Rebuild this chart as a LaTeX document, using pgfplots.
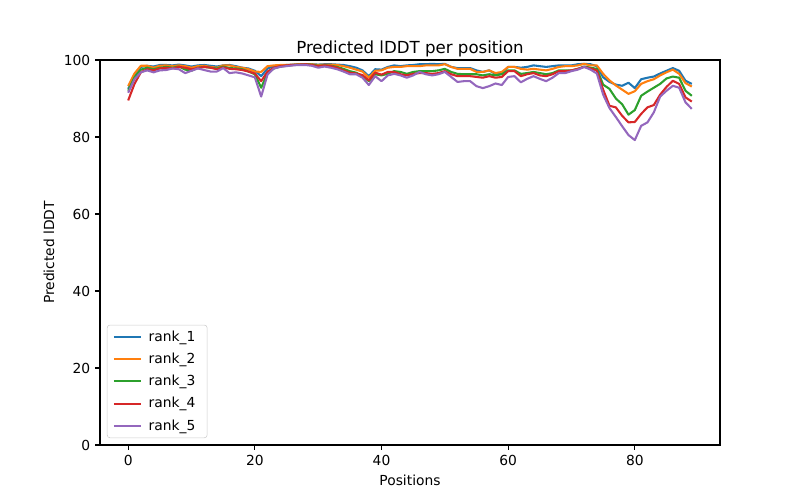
\documentclass[border=0pt]{standalone}
\usepackage{fontspec}
\setmainfont{DejaVu Sans}
\usepackage{pgfplots}
\usepackage{pgfplotstable}
\pgfplotsset{compat=1.18}

\definecolor{c0}{HTML}{1F77B4}
\definecolor{c1}{HTML}{FF7F0E}
\definecolor{c2}{HTML}{2CA02C}
\definecolor{c3}{HTML}{D62728}
\definecolor{c4}{HTML}{9467BD}

% predicted lDDT per residue, five ranked models
\pgfplotstableread{
pos r1 r2 r3 r4 r5
0 92.5 93.2 92.0 89.5 91.5
1 96.0 96.5 95.5 93.8 95.0
2 98.2 98.5 97.5 96.8 96.8
3 98.5 98.5 98.0 97.6 97.3
4 98.3 98.0 97.6 97.3 96.8
5 98.7 98.5 98.0 97.8 97.3
6 98.7 98.6 98.2 98.0 97.4
7 98.6 98.4 98.0 97.8 97.8
8 98.8 98.6 98.3 98.2 97.6
9 98.6 98.4 97.5 98.0 96.6
10 98.3 98.0 97.2 97.6 97.2
11 98.6 98.4 98.0 97.9 97.8
12 98.7 98.5 98.2 98.2 97.4
13 98.5 98.2 98.0 98.0 97.0
14 98.3 98.0 97.8 97.6 97.0
15 98.6 98.6 98.3 98.1 97.9
16 98.7 98.6 97.9 97.7 96.6
17 98.4 98.2 97.8 97.6 96.8
18 98.0 98.0 97.6 97.4 96.5
19 97.8 97.6 97.0 97.0 96.0
20 97.2 97.0 96.3 96.5 95.5
21 95.8 96.9 92.8 94.5 90.5
22 97.8 98.4 96.5 97.0 96.2
23 98.4 98.6 97.8 98.0 97.8
24 98.6 98.7 98.3 98.4 98.2
25 98.7 98.7 98.5 98.6 98.4
26 98.8 98.8 98.7 98.7 98.6
27 98.9 98.9 98.8 98.8 98.7
28 98.9 98.9 98.9 98.9 98.7
29 98.9 98.9 98.8 98.7 98.5
30 98.8 98.7 98.5 98.4 98.0
31 98.9 98.8 98.6 98.6 98.3
32 98.9 98.8 98.5 98.4 98.0
33 98.8 98.7 98.2 98.0 97.6
34 98.7 98.4 97.7 97.3 97.0
35 98.4 98.0 97.1 96.7 96.3
36 98.0 97.5 96.7 96.5 96.3
37 97.3 97.0 95.8 96.1 95.4
38 95.8 95.4 94.5 94.7 93.5
39 97.6 97.2 96.3 96.7 95.8
40 97.5 97.3 96.0 96.2 94.5
41 98.2 98.0 96.4 96.9 96.0
42 98.6 98.2 97.1 96.9 96.4
43 98.4 98.2 96.9 96.3 96.0
44 98.6 98.4 96.4 96.0 95.4
45 98.7 98.4 96.9 96.4 96.0
46 98.9 98.4 97.1 96.6 96.9
47 98.9 98.6 97.1 96.6 96.3
48 99.0 98.6 97.1 96.4 96.0
49 98.9 98.6 97.3 96.6 96.3
50 99.0 98.9 97.7 97.1 96.9
51 98.2 98.2 96.9 96.3 95.6
52 97.9 97.7 96.4 95.8 94.3
53 97.9 97.7 96.3 95.8 94.5
54 97.9 97.7 96.3 95.8 94.5
55 97.3 96.9 96.3 95.6 93.2
56 96.9 96.9 96.0 95.4 92.7
57 97.3 97.3 96.3 95.8 93.2
58 96.4 96.6 96.0 95.4 93.9
59 96.6 96.9 96.3 95.6 93.5
60 98.2 98.2 97.3 97.1 95.6
61 98.2 98.2 97.3 97.1 95.8
62 98.0 97.7 96.4 95.8 94.2
63 98.2 97.5 96.6 96.3 95.1
64 98.6 97.7 96.9 96.6 95.8
65 98.4 97.5 96.6 96.0 95.1
66 98.2 97.3 96.3 95.8 94.5
67 98.4 97.7 96.6 96.3 95.4
68 98.6 98.2 97.3 97.1 96.6
69 98.6 98.4 97.3 97.1 96.6
70 98.6 98.4 97.3 97.3 97.1
71 98.9 98.6 97.7 97.7 97.5
72 99.0 99.0 98.3 98.2 98.2
73 98.9 98.6 98.0 97.8 97.5
74 98.4 98.6 97.7 97.3 96.5
75 95.5 96.4 93.6 92.3 91.0
76 94.3 94.7 92.5 88.1 87.5
77 93.6 93.4 90.0 87.7 85.2
78 93.3 92.3 88.5 85.5 82.8
79 94.1 91.2 85.8 83.8 80.5
80 92.7 91.9 87.0 83.9 79.2
81 95.0 93.8 90.7 86.0 82.9
82 95.4 94.5 91.8 87.7 83.8
83 95.7 95.0 92.8 88.3 86.4
84 96.5 96.0 93.8 91.0 90.5
85 97.2 96.8 95.2 93.0 92.0
86 97.9 97.5 95.7 94.6 93.3
87 97.2 96.4 95.4 93.8 92.8
88 94.6 94.0 92.0 90.3 89.0
89 93.8 93.1 90.7 89.2 87.3
}\lddt

\begin{document}
\begin{tikzpicture}
\path[use as bounding box] (-1in,-0.55in) rectangle (7in,4.45in);
\begin{axis}[
    at={(0,0)}, anchor=south west,
    scale only axis,
    width=6.2in, height=3.85in,
    xmin=-4.45, xmax=93.45,
    ymin=0, ymax=100,
    xtick={0,20,40,60,80},
    ytick={0,20,40,60,80,100},
    tick pos=left,
    tick align=outside,
    major tick length=3.5pt,
    every tick/.style={black, line width=0.8pt},
    axis line style={line width=0.8pt},
    /pgf/number format/assume math mode=true,
    ticklabel style={font=\fontsize{10}{12}\selectfont},
    title={Predicted lDDT per position},
    title style={font=\fontsize{12}{14}\selectfont, yshift=-7pt},
    xlabel={Positions},
    ylabel={Predicted lDDT},
    label style={font=\fontsize{10}{12}\selectfont},
    legend cell align=left,
    legend style={
        at={(0,0)}, anchor=south west, xshift=5pt, yshift=5pt,
        draw=black!20, rounded corners=2pt,
        fill=white, fill opacity=0.8, text opacity=1,
        font=\fontsize{10}{12}\selectfont,
        inner xsep=4pt, inner ysep=2pt, row sep=3pt,
        nodes={inner xsep=4.5pt},
    },
    legend image code/.code={\draw[#1] (0pt,0pt) -- (20pt,0pt);},
    every axis plot/.append style={line width=1.5pt, line join=round},
]
\addplot[c0] table[x=pos, y=r1] {\lddt};
\addlegendentry{rank\_1}
\addplot[c1] table[x=pos, y=r2] {\lddt};
\addlegendentry{rank\_2}
\addplot[c2] table[x=pos, y=r3] {\lddt};
\addlegendentry{rank\_3}
\addplot[c3] table[x=pos, y=r4] {\lddt};
\addlegendentry{rank\_4}
\addplot[c4] table[x=pos, y=r5] {\lddt};
\addlegendentry{rank\_5}
\end{axis}
\end{tikzpicture}
\end{document}
